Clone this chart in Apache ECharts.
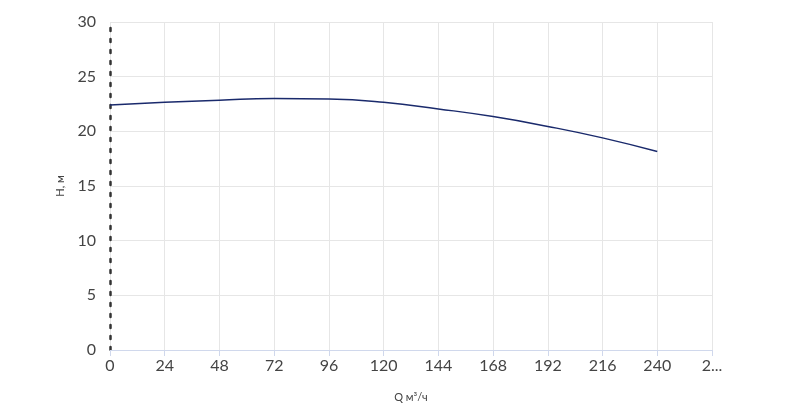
<!DOCTYPE html>
<html><head><meta charset="utf-8">
<script src="https://cdn.jsdelivr.net/npm/echarts@6/dist/echarts.min.js"></script>
<style>html,body{margin:0;padding:0;background:#fff}#chart{width:800px;height:408px}</style>
</head><body><div id="chart"></div>
<script>
var flowQ = [0, 24, 48, 72, 96, 120, 144, 168, 192, 216, 240];
var headH = [22.4, 22.65, 22.85, 23.0, 22.95, 22.65, 22.05, 21.35, 20.45, 19.4, 18.15];

var chart = echarts.init(document.getElementById('chart'));
chart.setOption({
    animation: false,
    textStyle: { fontFamily: 'Lato' },
    grid: { left: 110, right: 88, top: 22, bottom: 58 },
    xAxis: {
        type: 'value', min: 0, max: 264, interval: 24,
        name: 'Q м³/ч', nameLocation: 'middle', nameGap: 42,
        nameTextStyle: { color: '#444', fontSize: 11 },
        axisLine: { lineStyle: { color: '#d0d8ec' } },
        axisTick: { show: true, length: 6, lineStyle: { color: '#d0d8ec' } },
        axisLabel: { color: '#444', fontSize: 16, formatter: function (v) { return v === 264 ? '2...' : v; } },
        splitLine: { lineStyle: { color: '#e6e6e6' } }
    },
    yAxis: {
        type: 'value', min: 0, max: 30, interval: 5,
        name: 'H, м', nameLocation: 'middle', nameGap: 44,
        nameTextStyle: { color: '#444', fontSize: 11 },
        axisLine: { show: true, lineStyle: { color: '#333', width: 2.5, type: [3, 8] } },
        axisTick: { show: false },
        axisLabel: { color: '#444', fontSize: 16, margin: 14 },
        splitLine: { lineStyle: { color: '#e6e6e6' } }
    },
    series: [{
        type: 'line', smooth: true, symbol: 'none',
        lineStyle: { color: '#1a2a6c', width: 1.5 },
        data: flowQ.map(function (q, i) { return [q, headH[i]]; })
    }]
});
</script></body></html>
